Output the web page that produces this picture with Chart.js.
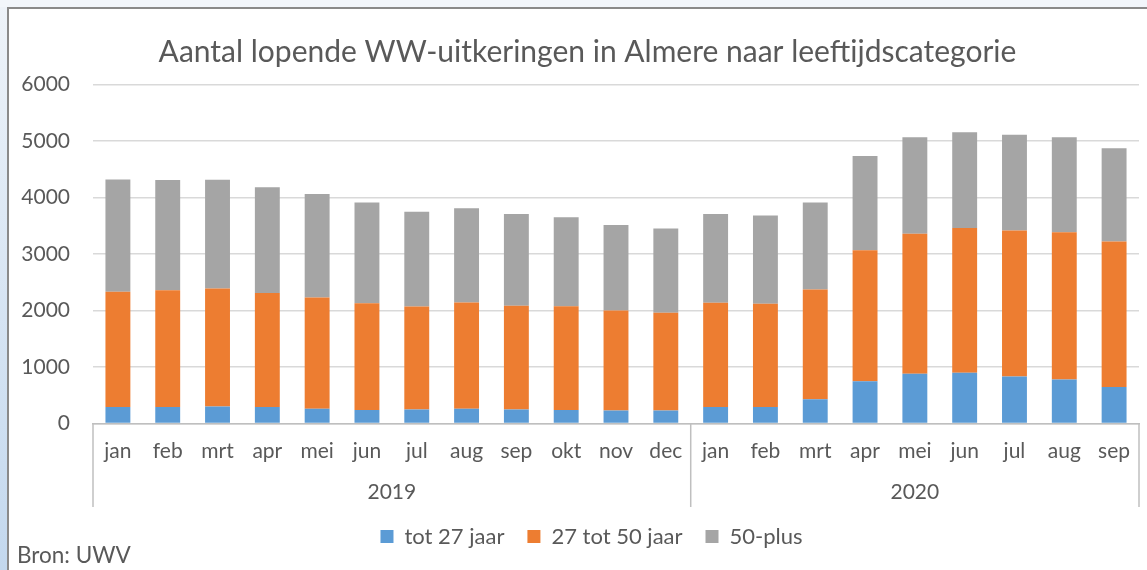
<!DOCTYPE html>
<html>
<head>
<meta charset="utf-8">
<script src="https://cdn.jsdelivr.net/npm/chart.js@4"></script>
<style>
  html, body { margin: 0; padding: 0; }
  body {
    width: 1147px; height: 570px; overflow: hidden; position: relative;
    background: linear-gradient(to bottom, #eef3f9 0%, #c3d8ee 100%);
  }
  #topstrip { position: absolute; left: 0; top: 0; width: 1147px; height: 7px; background: #f2f6fb; }
  #frame {
    position: absolute; left: 7px; top: 7px; width: 1140px; height: 563px;
    background: #ffffff; border-top: 2px solid #8a8a8a; border-left: 2px solid #8a8a8a; box-sizing: border-box;
  }
  #wrap { position: absolute; left: 0; top: 0; width: 1147px; height: 570px; }
  #source {
    position: absolute; left: 17px; top: 541px; font-family: Lato, sans-serif; font-size: 22.5px; color: #595959;
  }
</style>
</head>
<body>
<div id="topstrip"></div>
<div id="frame"></div>
<div id="wrap"><canvas id="c" width="1147" height="570"></canvas></div>
<div id="source">Bron: UWV</div>
<script>
// ---- data ----
const years = ['2019', '2020'];
const months2019 = ['jan','feb','mrt','apr','mei','jun','jul','aug','sep','okt','nov','dec'];
const months2020 = ['jan','feb','mrt','apr','mei','jun','jul','aug','sep'];
const seriesNames = ['tot 27 jaar', '27 tot 50 jaar', '50-plus'];
const tot27 = [290, 290, 300, 290, 260, 240, 250, 260, 250, 240, 230, 230,
               290, 290, 430, 750, 880, 900, 830, 780, 645];
const tot27to50 = [2040, 2070, 2090, 2020, 1970, 1890, 1820, 1880, 1835, 1835, 1770, 1730,
                   1845, 1830, 1940, 2315, 2480, 2560, 2585, 2605, 2575];
const plus50 = [1990, 1950, 1925, 1870, 1830, 1780, 1680, 1670, 1625, 1575, 1515, 1490,
                1575, 1560, 1540, 1670, 1705, 1695, 1695, 1680, 1650];
const yTicks = [0, 1000, 2000, 3000, 4000, 5000, 6000];

const labels = months2019.concat(months2020);
const groupSizes = [months2019.length, months2020.length];

const TEXT = '#595959';
const FONT = 'Lato, sans-serif';

// shift title / legend centring to match the original's off-centre placement
const centring = {
  id: 'centring',
  afterLayout(chart) {
    if (chart.titleBlock) { chart.titleBlock.left = 36; }
    if (chart.legend) { chart.legend.left = 44; }
  }
};

const yearRow = {
  id: 'yearRow',
  afterDraw(chart) {
    const x = chart.scales.x;
    const ctx = chart.ctx;
    const top = chart.chartArea.bottom;
    const bottom = 507;
    const step = x.getPixelForValue(1) - x.getPixelForValue(0);
    const bounds = [x.left];
    let idx = 0;
    groupSizes.forEach(n => { idx += n; bounds.push(x.getPixelForValue(idx - 1) + step / 2); });
    ctx.save();
    ctx.strokeStyle = '#bfbfbf';
    ctx.lineWidth = 1.5;
    bounds.forEach(b => {
      ctx.beginPath(); ctx.moveTo(b, top); ctx.lineTo(b, bottom); ctx.stroke();
    });
    ctx.fillStyle = TEXT;
    ctx.font = '21px ' + FONT;
    ctx.textAlign = 'center';
    ctx.textBaseline = 'middle';
    years.forEach((y, i) => {
      ctx.fillText(y, (bounds[i] + bounds[i + 1]) / 2, 492);
    });
    ctx.restore();
  }
};

new Chart(document.getElementById('c'), {
  type: 'bar',
  data: {
    labels: labels,
    datasets: [
      { label: seriesNames[0], data: tot27, backgroundColor: '#5b9bd5' },
      { label: seriesNames[1], data: tot27to50, backgroundColor: '#ed7d31' },
      { label: seriesNames[2], data: plus50, backgroundColor: '#a5a5a5' }
    ]
  },
  plugins: [centring, yearRow],
  options: {
    responsive: false,
    animation: false,
    layout: { padding: { left: 0, right: 8, top: 10, bottom: 12.5 } },
    datasets: { bar: { categoryPercentage: 1, barPercentage: 0.5 } },
    plugins: {
      title: {
        display: true,
        text: 'Aantal lopende WW-uitkeringen in Almere naar leeftijdscategorie',
        color: TEXT,
        font: { family: FONT, size: 30, weight: 'normal' },
        padding: { top: 24, bottom: 14.5 }
      },
      legend: {
        position: 'bottom',
        labels: {
          color: TEXT,
          font: { family: FONT, size: 22 },
          boxWidth: 13, boxHeight: 13,
          padding: 23
        }
      },
      tooltip: { enabled: false }
    },
    scales: {
      x: {
        stacked: true,
        grid: { display: false, drawTicks: false },
        border: { display: true, color: '#bfbfbf', width: 1.5 },
        ticks: { color: TEXT, font: { family: FONT, size: 21 }, padding: 15, maxRotation: 0, autoSkip: false },
        afterFit(scale) { scale.height = 79; }
      },
      y: {
        stacked: true,
        min: 0, max: 6000,
        afterBuildTicks(scale) { scale.ticks = yTicks.map(v => ({ value: v })); },
        grid: { color: '#d9d9d9', lineWidth: 1.5, drawTicks: false },
        border: { display: false },
        ticks: { color: TEXT, font: { family: FONT, size: 21 }, padding: 23, callback: v => String(v) },
        afterFit(scale) { scale.width = 93; }
      }
    }
  }
});
</script>
</body>
</html>
